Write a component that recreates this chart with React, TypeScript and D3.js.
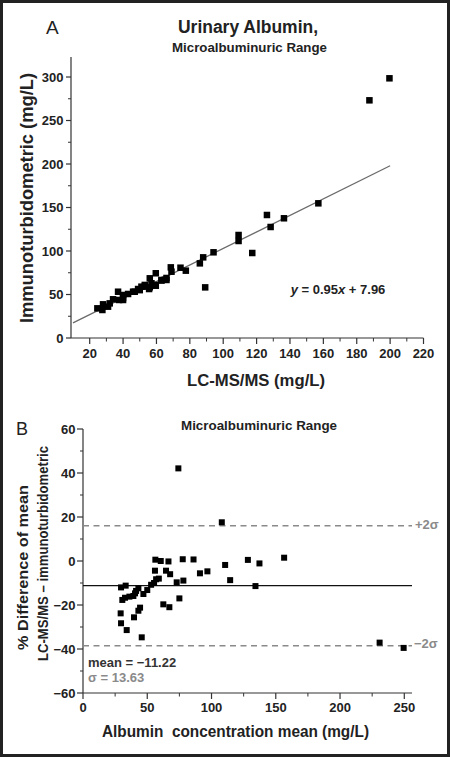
import React from "react";
import * as d3 from "d3";

// Panel A: LC-MS/MS (x) vs immunoturbidometric (y), mg/L
const lcmsA: number[] = [24.6, 28, 27.6, 31, 32, 34, 37, 37.6, 40, 40, 43, 46, 49, 51, 53, 55.6, 56, 57, 59.6, 59.6, 63, 66, 66, 68.6, 69, 74.4, 77.6, 86, 88, 89.2, 94.2, 109.2, 109.2, 117.4, 126.2, 128.4, 136.4, 157, 187.6, 199.6, 40, 47, 50, 53, 56, 59, 63, 65];
const immA: number[] = [34.1, 38.7, 32.2, 36, 39.8, 44.5, 53.2, 43.7, 49.4, 46, 50.6, 53.2, 56.3, 59, 61, 56.3, 68.6, 62.9, 74.4, 60.1, 66.7, 66.7, 69, 81.2, 76.2, 80.8, 77.4, 85.8, 92.7, 58.2, 98.5, 118.4, 111.5, 97.7, 141.4, 127.6, 137.6, 154.8, 273.2, 298.5, 43.7, 53.2, 55, 59, 58.3, 61, 66, 67];
const slope = 0.95;
const intercept = 7.96;
const fitRange: number[] = [10, 200];
const xTicksA: number[] = [20, 40, 60, 80, 100, 120, 140, 160, 180, 200, 220];
const xMinorA: number[] = [30, 50, 70, 90, 110, 130, 150, 170, 190, 210];
const yTicksA: number[] = [0, 50, 100, 150, 200, 250, 300];
const yMinorA: number[] = [25, 75, 125, 175, 225, 275];

// Panel B: Bland-Altman
const meanB: number[] = [29.3, 29.6, 29.6, 30.6, 33.2, 32.7, 34.0, 36.1, 39.2, 39.7, 40.5, 41.3, 43.1, 43.1, 44.4, 45.7, 47.0, 50.0, 53.0, 55.3, 56.9, 59.0, 56.0, 56.3, 60.5, 62.5, 64.6, 66.5, 67.2, 67.8, 72.9, 74.2, 75.0, 77.6, 78.1, 86.0, 91.0, 96.8, 108.0, 110.6, 114.5, 128.3, 134.2, 137.3, 156.5, 230.8, 249.5];
const diffB: number[] = [-23.8, -28.3, -12.0, -17.7, -11.2, -16.7, -31.4, -16.2, -15.9, -25.6, -14.7, -13.6, -12.4, -22.6, -21.2, -34.7, -15.0, -13.2, -10.8, -10.0, -8.3, -8.0, -4.4, 0.6, 0.0, -19.7, -4.4, -0.2, -21.0, -6.0, -9.7, 42.1, -17.0, 0.8, -8.9, 0.7, -5.6, -4.7, 17.6, -1.8, -8.7, 0.5, -11.4, -1.1, 1.5, -37.1, -39.5];
const meanDiff = -11.22;
const sigma = 13.63;
const xTicksB: number[] = [0, 50, 100, 150, 200, 250];
const xMinorB: number[] = [25, 75, 125, 175, 225];
const yTicksB: number[] = [-60, -40, -20, 0, 20, 40, 60];
const yMinorB: number[] = [-50, -30, -10, 10, 30, 50];

const FONT = "'Liberation Sans', Arial, Helvetica, sans-serif";
const INK = "#222";
const AXIS = "#333";
const GRAY = "#8a8a8a";

export default function App() {
  const xA = d3.scaleLinear().domain([8.8, 220]).range([71, 423.5]);
  const yA = d3.scaleLinear().domain([0, 323]).range([338, 57]);
  const xB = d3.scaleLinear().domain([0, 256]).range([83, 412]);
  const yB = d3.scaleLinear().domain([-60, 60]).range([693, 429]);

  const fitLine = d3
    .line<number>()
    .x((d) => xA(d))
    .y((d) => yA(slope * d + intercept));

  const sqA = 6.5;
  const sqB = 6;

  const tickText = { fontFamily: FONT, fontSize: 13, fontWeight: 700, fill: INK } as const;

  return (
    <svg
      width={450}
      height={757}
      style={{ position: "absolute", left: 0, top: 0, background: "#fff" }}
    >
      <rect x={0} y={0} width={450} height={757} fill="#fff" />
      <rect x={1.5} y={1.5} width={447} height={754} fill="none" stroke="#222" strokeWidth={3} />

      {/* ---------- Panel A ---------- */}
      <text x={46} y={33.5} fontFamily={FONT} fontSize={19} fill={INK}>A</text>
      <text x={248} y={32.5} textAnchor="middle" fontFamily={FONT} fontSize={18} fontWeight={700} fill={INK} textLength={140} lengthAdjust="spacingAndGlyphs">Urinary Albumin,</text>
      <text x={249.5} y={51.7} textAnchor="middle" fontFamily={FONT} fontSize={13} fontWeight={700} fill={INK} textLength={155} lengthAdjust="spacingAndGlyphs">Microalbuminuric Range</text>

      {/* axes A */}
      <line x1={71} x2={71} y1={57} y2={338} stroke={AXIS} strokeWidth={1.2} />
      <line x1={71} x2={423.5} y1={338} y2={338} stroke={AXIS} strokeWidth={1.2} />
      {yTicksA.map((t) => (
        <g key={"ya" + t}>
          <line x1={66} x2={71} y1={yA(t)} y2={yA(t)} stroke={AXIS} strokeWidth={1.2} />
          <text x={63.5} y={yA(t) + 4.6} textAnchor="end" {...tickText}>{t}</text>
        </g>
      ))}
      {yMinorA.map((t) => (
        <line key={"yam" + t} x1={68} x2={71} y1={yA(t)} y2={yA(t)} stroke={AXIS} strokeWidth={1} />
      ))}
      {xTicksA.map((t) => (
        <g key={"xa" + t}>
          <line x1={xA(t)} x2={xA(t)} y1={338} y2={344} stroke={AXIS} strokeWidth={1.2} />
          <text x={xA(t)} y={357.5} textAnchor="middle" {...tickText}>{t}</text>
        </g>
      ))}
      {xMinorA.map((t) => (
        <line key={"xam" + t} x1={xA(t)} x2={xA(t)} y1={338} y2={341.5} stroke={AXIS} strokeWidth={1} />
      ))}

      <path d={fitLine(fitRange) || ""} stroke="#6b6b6b" strokeWidth={1.3} fill="none" />
      {lcmsA.map((v, i) => (
        <rect key={"pa" + i} x={xA(v) - sqA / 2} y={yA(immA[i]) - sqA / 2} width={sqA} height={sqA} fill="#000" />
      ))}

      <text x={338} y={294.3} textAnchor="middle" fontFamily={FONT} fontSize={13} fontWeight={700} fill={INK}>
        <tspan fontStyle="italic">y</tspan>
        <tspan> = 0.95</tspan>
        <tspan fontStyle="italic">x</tspan>
        <tspan> + 7.96</tspan>
      </text>

      <text x={256} y={385.5} textAnchor="middle" fontFamily={FONT} fontSize={17} fontWeight={700} fill={INK} textLength={138} lengthAdjust="spacingAndGlyphs">LC-MS/MS (mg/L)</text>
      <text transform="translate(33,198) rotate(-90)" textAnchor="middle" fontFamily={FONT} fontSize={18} fontWeight={700} fill={INK} textLength={250} lengthAdjust="spacingAndGlyphs">Immunoturbidometric (mg/L)</text>

      {/* ---------- Panel B ---------- */}
      <text x={16} y={435} fontFamily={FONT} fontSize={18} fill={INK}>B</text>
      <text x={259} y={430} textAnchor="middle" fontFamily={FONT} fontSize={13} fontWeight={700} fill={INK} textLength={156} lengthAdjust="spacingAndGlyphs">Microalbuminuric Range</text>

      <line x1={83} x2={83} y1={429} y2={693} stroke={AXIS} strokeWidth={1.2} />
      <line x1={83} x2={412} y1={693} y2={693} stroke={AXIS} strokeWidth={1.2} />
      {yTicksB.map((t) => (
        <g key={"yb" + t}>
          <line x1={77} x2={83} y1={yB(t)} y2={yB(t)} stroke={AXIS} strokeWidth={1.2} />
          <text x={75.5} y={yB(t) + 4.6} textAnchor="end" {...tickText}>{t < 0 ? "\u2212" + Math.abs(t) : t}</text>
        </g>
      ))}
      {yMinorB.map((t) => (
        <line key={"ybm" + t} x1={80} x2={83} y1={yB(t)} y2={yB(t)} stroke={AXIS} strokeWidth={1} />
      ))}
      {xTicksB.map((t) => (
        <g key={"xb" + t}>
          <line x1={xB(t)} x2={xB(t)} y1={693} y2={699} stroke={AXIS} strokeWidth={1.2} />
          <text x={xB(t)} y={712} textAnchor="middle" {...tickText}>{t}</text>
        </g>
      ))}
      {xMinorB.map((t) => (
        <line key={"xbm" + t} x1={xB(t)} x2={xB(t)} y1={693} y2={696.5} stroke={AXIS} strokeWidth={1} />
      ))}

      <line x1={83} x2={412} y1={yB(meanDiff)} y2={yB(meanDiff)} stroke="#111" strokeWidth={1.3} />
      <line x1={83} x2={412} y1={yB(meanDiff + 2 * sigma)} y2={yB(meanDiff + 2 * sigma)} stroke={GRAY} strokeWidth={1.5} strokeDasharray="6,4.5" />
      <line x1={83} x2={412} y1={yB(meanDiff - 2 * sigma)} y2={yB(meanDiff - 2 * sigma)} stroke={GRAY} strokeWidth={1.5} strokeDasharray="6,4.5" />

      {meanB.map((v, i) => (
        <rect key={"pb" + i} x={xB(v) - sqB / 2} y={yB(diffB[i]) - sqB / 2} width={sqB} height={sqB} fill="#000" />
      ))}

      <text x={415} y={529} fontFamily={FONT} fontSize={13} fontWeight={700} fill={GRAY}>+2σ</text>
      <text x={414} y={647.5} fontFamily={FONT} fontSize={13} fontWeight={700} fill={GRAY}>−2σ</text>
      <text x={88} y={667} fontFamily={FONT} fontSize={13} fontWeight={700} fill="#333">mean = −11.22</text>
      <text x={88} y={682} fontFamily={FONT} fontSize={13} fontWeight={700} fill={GRAY}>σ = 13.63</text>

      <text x={235.5} y={737} textAnchor="middle" fontFamily={FONT} fontSize={16} fontWeight={700} fill={INK} textLength={267} lengthAdjust="spacingAndGlyphs" style={{ whiteSpace: "pre" }}>{"Albumin  concentration mean (mg/L)"}</text>
      <text transform="translate(28,567.5) rotate(-90)" textAnchor="middle" fontFamily={FONT} fontSize={15} fontWeight={700} fill={INK} textLength={165} lengthAdjust="spacingAndGlyphs">% Difference of mean</text>
      <text transform="translate(48,553.5) rotate(-90)" textAnchor="middle" fontFamily={FONT} fontSize={15.5} fontWeight={700} fill={INK} textLength={215} lengthAdjust="spacingAndGlyphs">LC-MS/MS – immunoturbidometric</text>
    </svg>
  );
}
